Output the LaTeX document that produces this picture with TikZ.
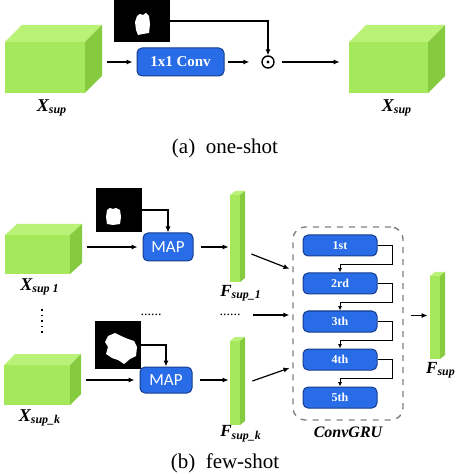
\documentclass[tikz,border=0pt]{standalone}
\usepackage{fontspec}
\setmainfont{Liberation Serif}
\newfontfamily\mapfont{Carlito}
\usetikzlibrary{arrows.meta}
\definecolor{gfront}{RGB}{166,232,92}
\definecolor{gtop}{RGB}{186,242,120}
\definecolor{gside}{RGB}{134,202,64}
\definecolor{convblue}{RGB}{40,108,232}
\definecolor{convedge}{RGB}{24,60,140}

% green feature block: name, left, top, right, bottom, depth x, depth y
\newcommand{\featblock}[7]{
\fill[gfront] (#2,#3) rectangle (#4,#5);
\fill[gtop] (#2,#3) -- (#2+#6,#3-#7) -- (#4+#6,#3-#7) -- (#4,#3) -- cycle;
\fill[gside] (#4,#3) -- (#4+#6,#3-#7) -- (#4+#6,#5-#7) -- (#4,#5) -- cycle;
\node[inner sep=0pt, minimum width={(#4+#6-#2)*0.5pt}, minimum height={(#5-#3+#7)*0.5pt}]
  (#1) at ({(#2+#4+#6)/2},{(#3-#7+#5)/2}) {};
}

\tikzset{
  blk/.style={fill=convblue, draw=convedge, line width=0.5pt, rounded corners=2.5pt,
    text=white, inner sep=0pt},
  gru/.style={blk, minimum width=37pt, minimum height=10.5pt,
    font=\fontsize{6}{7}\selectfont\bfseries},
  link/.style={-{Latex[length=3pt,width=2.6pt]}, line width=0.6pt},
  hop/.style={-{Latex[length=2.2pt,width=2pt]}, line width=0.45pt},
  maskbox/.style={fill=black, inner sep=0pt},
  lab/.style={font=\fontsize{9}{10}\selectfont\bfseries\itshape, inner sep=0pt},
  captxt/.style={font=\fontsize{10.5}{12}\selectfont, inner sep=0pt}
}

\begin{document}
\begin{tikzpicture}[x=0.5pt,y=-0.5pt]
\useasboundingbox (0,0) rectangle (474,474);

% (a) one-shot
\featblock{cubeA}{5}{42}{85}{93}{17}{17}
\featblock{cubeB}{349}{42}{428}{93}{17}{17}
\node[maskbox, minimum width=28pt, minimum height=21pt] (maskA) at (142,21) {};
\fill[white] (137,16) -- (140,14) -- (143,15) -- (146,13) -- (149,16) -- (150,24)
  -- (149,33) -- (143,34) -- (138,35) -- (136,30) -- (135,22) -- cycle;
\node[blk, minimum width=43.5pt, minimum height=14pt,
  font=\fontsize{7.5}{9}\selectfont\bfseries] (conv) at (180.5,62) {1x1 Conv};
\node[circle, draw, line width=0.7pt, minimum size=6pt, inner sep=0pt] (prod) at (268,62) {};
\fill (prod.center) circle (0.8pt);
\draw[link, shorten <=2.5pt, shorten >=2pt] (cubeA.east |- conv.west) -- (conv.west);
\draw[link, shorten <=1.5pt, shorten >=6pt] (conv.east) -- (prod.west);
\draw[link] (maskA.east) -| (prod.north);
\draw[link, shorten <=3.5pt, shorten >=4.5pt] (prod.east) -- (prod.east -| cubeB.west);
\node[lab] (xa) at (52,108) {X\textsubscript{sup}};
\node[lab] (xb) at (397,108) {X\textsubscript{sup}};
\node[captxt] (capa) at (225,148) {(a)\ \ one-shot};

% (b) few-shot
\featblock{cube1}{5}{235}{70}{274}{12}{11}
\featblock{cubek}{4}{365}{70}{405}{11}{11}
\node[lab] (x1) at (40,287) {X\textsubscript{sup 1}};
\node[lab] (xk) at (40,418) {X\textsubscript{sup\_k}};
\draw[dotted, line width=0.8pt] (42,309) -- (42,333);

\node[maskbox, minimum width=23pt, minimum height=22pt] (mask1) at (119,210) {};
\fill[white] (107,210) -- (110,208) -- (113,209) -- (116,208) -- (120,210) -- (121,217)
  -- (120,224) -- (113,225) -- (107,224) -- (106,217) -- cycle;
\node[maskbox, minimum width=23pt, minimum height=24pt] (maskk) at (118,345) {};
\fill[white] (108,336) -- (115,333) -- (121,336) -- (128,339) -- (134,341) -- (137,347)
  -- (136,356) -- (130,359) -- (124,364) -- (118,360) -- (112,358) -- (106,354)
  -- (108,347) -- (105,342) -- cycle;

\node[blk, minimum width=25pt, minimum height=14pt, font=\mapfont\fontsize{8.5}{9}\selectfont]
  (map1) at (168,247) {MAP};
\node[blk, minimum width=26pt, minimum height=13pt, font=\mapfont\fontsize{8.5}{9}\selectfont]
  (mapk) at (166,380) {MAP};

\featblock{bar1}{230}{195}{240}{282}{5}{4}
\featblock{bark}{230}{341}{240}{425}{5}{4}
\featblock{barF}{430}{276}{440}{359}{5}{4}
\node[lab, font=\fontsize{8.5}{10}\selectfont\bfseries\itshape] (f1) at (241,293) {F\textsubscript{sup\_1}};
\node[lab, font=\fontsize{8.5}{10}\selectfont\bfseries\itshape] (fk) at (241,434) {F\textsubscript{sup\_k}};
\node[lab, font=\fontsize{8.5}{10}\selectfont\bfseries\itshape] (fs) at (441,370) {F\textsubscript{sup}};

\node[inner sep=0pt, font=\fontsize{7}{8}\selectfont] (dotsL) at (151,315) {......};
\node[inner sep=0pt, font=\fontsize{7}{8}\selectfont] (dotsR) at (230,315) {......};

\draw[link, shorten <=2.5pt, shorten >=2.5pt] (cube1.east |- map1.west) -- (map1.west);
\draw[link, shorten <=2.5pt, shorten >=2.5pt] (cubek.east |- mapk.west) -- (mapk.west);
\draw[link] (mask1.east) -| (map1.north);
\draw[link] (maskk.east) -| (mapk.north);
\draw[link, shorten <=3.5pt, shorten >=0.5pt] (map1.east) -- (map1.east -| bar1.west);
\draw[link, shorten <=3.5pt, shorten >=0.5pt] (mapk.east) -- (mapk.east -| bark.west);

% ConvGRU
\node[draw=gray, dashed, line width=0.7pt, rounded corners=6pt, inner sep=0pt,
  minimum width=55pt, minimum height=96.5pt] (gru) at (348,323.5) {};
\foreach \n/\t in {1/1st,2/2rd,3/3th,4/4th,5/5th}
  \node[gru] (g\n) at (340,{245.5+38*(\n-1)}) {\t};
\foreach \i/\j in {1/2,2/3,3/4,4/5}
  \draw[hop] (g\i.east) -- ++(15,0) -- ++(0,19) -| (g\j.north);
\node[lab, font=\fontsize{8}{9}\selectfont\bfseries\itshape] (grulab) at (348,432) {ConvGRU};

\draw[link, shorten >=1.5pt] ([shift={(6,17.5)}]bar1.east) -- ([shift={(0,-53.5)}]gru.west);
\draw[link, shorten <=6pt, shorten >=1.5pt] (dotsR.east) -- (dotsR.east -| gru.west);
\draw[link, shorten >=1.5pt] ([shift={(7,0)}]bark.east) -- ([shift={(0,43.5)}]gru.west);
\draw[link, shorten <=3.5pt, shorten >=1pt] (gru.east |- barF.west) -- (barF.west);

\node[captxt] (capb) at (225,463) {(b)\ \ few-shot};
\end{tikzpicture}
\end{document}
